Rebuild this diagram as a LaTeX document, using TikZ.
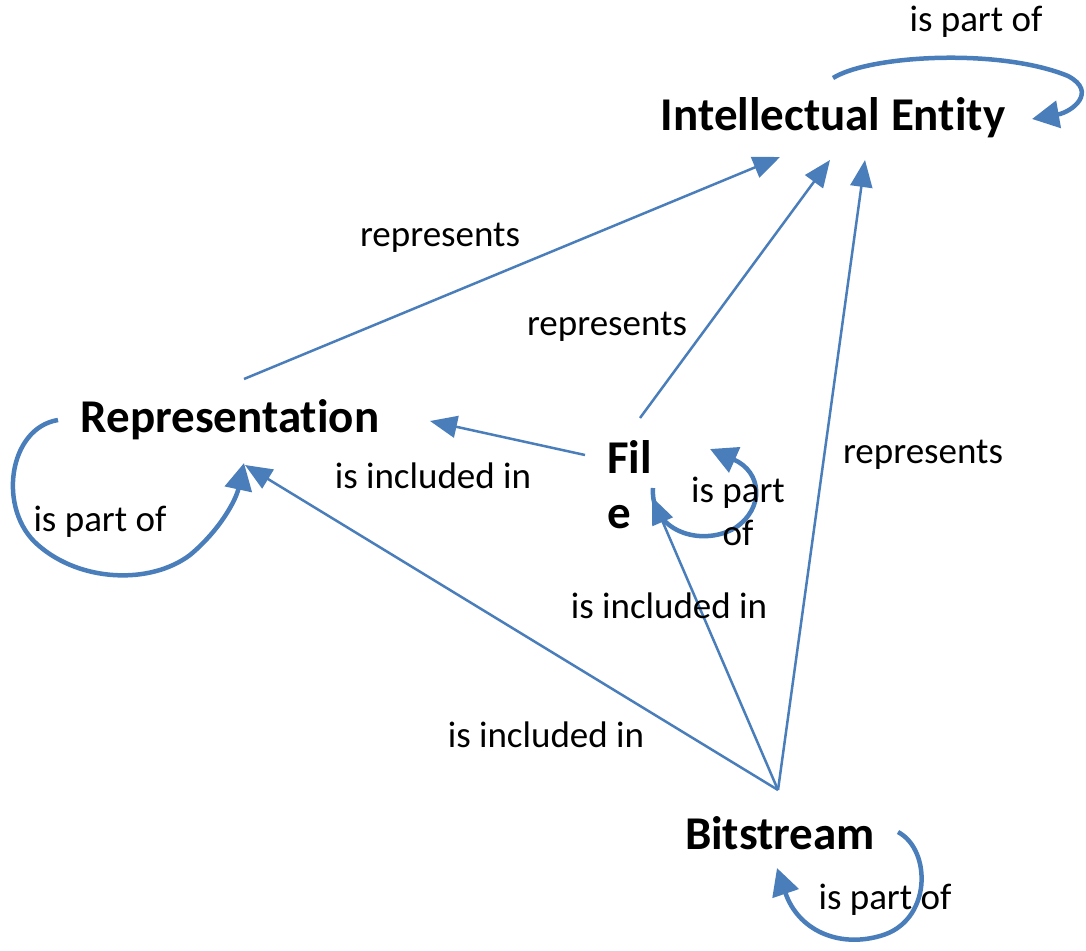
\documentclass[tikz,border=0pt]{standalone}
\usepackage{fontspec}
\setmainfont[Ligatures=NoCommon]{Carlito}
\usetikzlibrary{arrows.meta}
\definecolor{linkblue}{RGB}{74,126,187}
\tikzset{
  entity/.style={font=\fontsize{47}{55}\selectfont\bfseries, inner sep=0pt, text=black},
  lbl/.style={font=\fontsize{37}{43}\selectfont, inner sep=0pt, text=black},
  rel/.style={draw=linkblue, line width=2.5pt, -{Triangle[length=27pt,width=22pt]}},
  selfrel/.style={draw=linkblue, line width=4.5pt, -{Triangle[length=27pt,width=27pt]}},
}
\begin{document}
\begin{tikzpicture}[x=1pt,y=-1pt]
\useasboundingbox (0,0) rectangle (1086,950);
% entities
\node[entity] (ie) at (833,118) {Intellectual Entity};
\node[entity] (rep) at (230,420) {Representation};
\node[entity, align=left, anchor=north west] (file) at (607,440) {Fil\\e};
\node[entity] (bit) at (780,833) {Bitstream};
% connection points
\coordinate (rep-out) at (244,379);
\coordinate (ie-in1) at (780,157);
\coordinate (file-top) at (640,418);
\coordinate (ie-in2) at (830,160);
\coordinate (bit-top) at (778,790);
\coordinate (ie-in3) at (865,160);
\coordinate (file-left) at (585,455);
\coordinate (rep-in1) at (430,421);
\coordinate (rep-in2) at (245,465);
\coordinate (file-in) at (652,497);
% straight relations
\draw[rel] (rep-out) -- (ie-in1);
\draw[rel] (file-top) -- (ie-in2);
\draw[rel] (bit-top) -- (ie-in3);
\draw[rel] (file-left) -- (rep-in1);
\draw[rel] (bit-top) -- (rep-in2);
\draw[rel] (bit-top) -- (file-in);
% self loops
\coordinate (ie-ls) at (833,78);
\coordinate (ie-le) at (1032,119);
\draw[selfrel] (ie-ls) .. controls (870,55) and (1000,48) .. (1068,76)
  .. controls (1098,92) and (1072,112) .. (ie-le);
\coordinate (rep-ls) at (58,420);
\coordinate (rep-le) at (244,463);
\draw[selfrel] (rep-ls) .. controls (8,428) and (-3,510) .. (38,545)
  .. controls (80,582) and (150,585) .. (190,555)
  .. controls (220,530) and (236,500) .. (rep-le);
\coordinate (file-ls) at (653,488);
\coordinate (file-le) at (710,449);
\draw[selfrel] (file-ls) .. controls (650,530) and (700,548) .. (735,528)
  .. controls (765,508) and (762,472) .. (file-le);
\coordinate (bit-ls) at (898,832);
\coordinate (bit-le) at (777,868);
\draw[selfrel] (bit-ls) .. controls (932,850) and (932,922) .. (880,936)
  .. controls (838,948) and (798,930) .. (bit-le);
% labels
\node[lbl] (l1) at (976,22) {is part of};
\node[lbl] (l2) at (440,238) {represents};
\node[lbl] (l3) at (607,327) {represents};
\node[lbl] (l4) at (923,455) {represents};
\node[lbl] (l5) at (433,476) {is included in};
\node[lbl] (l6) at (100,522) {is part of};
\node[lbl, align=center] (l7) at (738,511) {is part\\of};
\node[lbl] (l8) at (669,606) {is included in};
\node[lbl] (l9) at (546,735) {is included in};
\node[lbl] (l10) at (885,900) {is part of};
\end{tikzpicture}
\end{document}
